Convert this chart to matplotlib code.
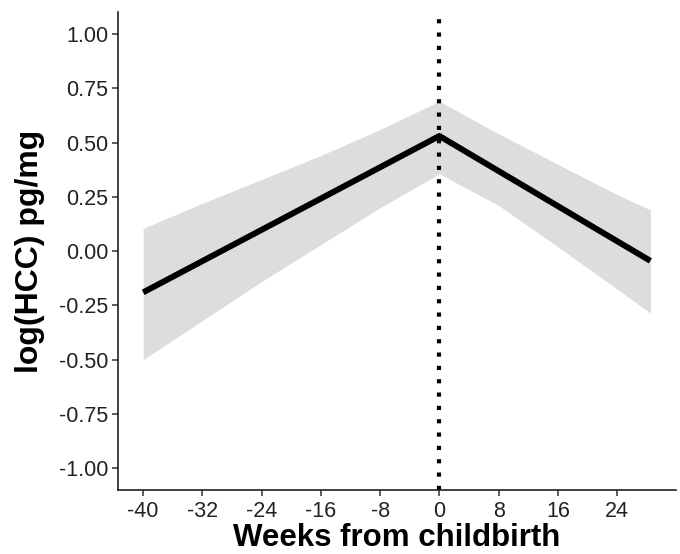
import numpy as np
import matplotlib
matplotlib.use("Agg")
import matplotlib.pyplot as plt

plt.rcParams['font.family'] = ['Liberation Sans', 'DejaVu Sans']

# Fitted piecewise line (weeks from childbirth -> log(HCC))
line_weeks = [-40, 0, 28.5]
line_vals = [-0.19, 0.53, -0.045]

# Confidence band
band_weeks = [-40, -32, -24, -16, -8, 0, 8, 16, 24, 28.5]
band_upper = [0.105, 0.22, 0.33, 0.44, 0.56, 0.69, 0.54, 0.40, 0.26, 0.19]
band_lower = [-0.50, -0.32, -0.14, 0.03, 0.20, 0.356, 0.21, 0.02, -0.175, -0.286]

x_ticks = [-40, -32, -24, -16, -8, 0, 8, 16, 24]
y_ticks = [-1.00, -0.75, -0.50, -0.25, 0.00, 0.25, 0.50, 0.75, 1.00]

fig = plt.figure(figsize=(6.8, 5.54), dpi=100)
ax = fig.add_axes([0.1735, 0.1155, 0.82, 0.8625])

ax.fill_between(band_weeks, band_lower, band_upper, color='#dddddd', linewidth=0, zorder=1)
ax.plot(line_weeks, line_vals, color='black', lw=4.3, solid_capstyle='butt', zorder=3)
ax.axvline(0, color='black', lw=3, linestyle=(0, (1, 2.2)), zorder=2)

ax.set_xlim(-43.4, 31.9)
ax.set_ylim(-1.1, 1.1)
ax.set_xticks(x_ticks)
ax.set_xticklabels([str(v) for v in x_ticks])
ax.set_yticks(y_ticks)
ax.set_yticklabels([f"{v:.2f}" for v in y_ticks])

for s in ['top', 'right']:
    ax.spines[s].set_visible(False)
for s in ['left', 'bottom']:
    ax.spines[s].set_linewidth(1.2)
    ax.spines[s].set_color('#222222')

ax.tick_params(axis='both', labelsize=15.5, length=4, width=1.1, color='#333333',
               labelcolor='#222222')
ax.tick_params(axis='x', pad=4)
ax.tick_params(axis='y', pad=3)

ax.set_xlabel("Weeks from childbirth", fontsize=22.5, fontweight='bold', labelpad=0.5)
ax.set_ylabel("log(HCC) pg/mg", fontsize=23, fontweight='bold', labelpad=10)

fig.savefig("out.png", dpi=100)
